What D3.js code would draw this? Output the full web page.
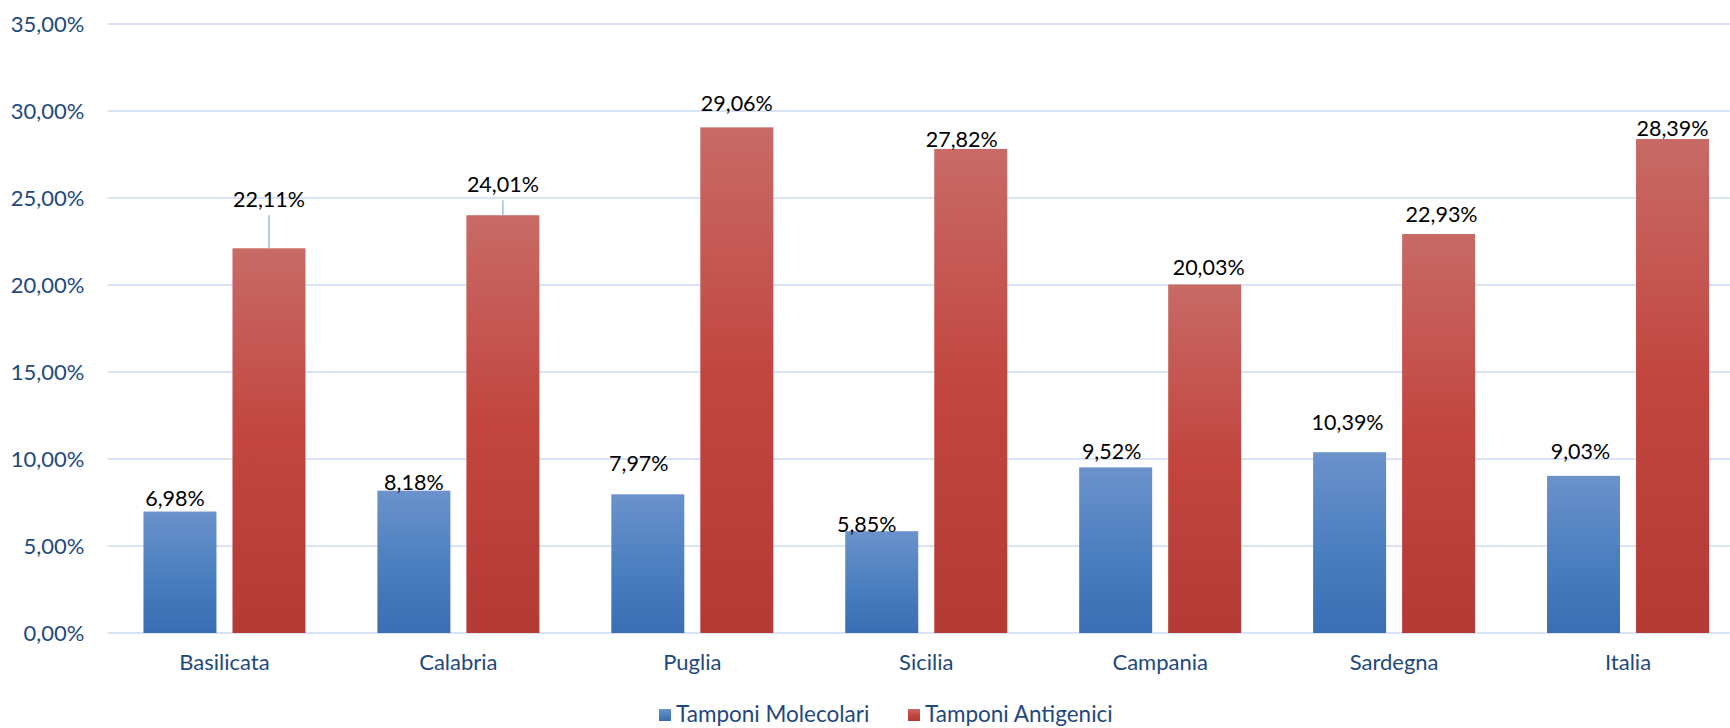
<!DOCTYPE html>
<html>
<head>
<meta charset="utf-8">
<script src="https://cdn.jsdelivr.net/npm/d3@7"></script>
<style>
  html, body { margin: 0; padding: 0; background: #fff; }
  svg { display: block; }
  text { font-family: Lato, "Open Sans", sans-serif; }
</style>
</head>
<body>
<svg id="chart" width="1730" height="728"></svg>
<script>
// ---- data ----
const categories = ["Basilicata", "Calabria", "Puglia", "Sicilia", "Campania", "Sardegna", "Italia"];
const seriesNames = ["Tamponi Molecolari", "Tamponi Antigenici"];
const molecolari = [6.98, 8.18, 7.97, 5.85, 9.52, 10.39, 9.03];
const antigenici = [22.11, 24.01, 29.06, 27.82, 20.03, 22.93, 28.39];
const yTicks = [0, 5, 10, 15, 20, 25, 30, 35];

// label nudges (layout only, dx/dy in px from default position above bar)
const nudgeMol = [[-5, -1], [0, 4], [-9, -18], [-15, 6], [-4, -3], [-2, -17], [-3, -12]];
const nudgeAnt = [[0, -36], [0, -18], [0, -11], [-9, 3], [4, -4], [3, -7], [0, 2]];

const fmt = v => v.toFixed(2).replace(".", ",") + "%";

const svg = d3.select("#chart");
const margin = { left: 107.5, right: -15, top: 24, bottom: 95 };
const W = 1730, H = 728;

const x0 = d3.scaleBand().domain(categories).range([margin.left, W - margin.right]).padding(0);
const x1 = d3.scaleBand().domain(seriesNames).range([0, x0.bandwidth()]).paddingInner(0.18).paddingOuter(0.404);
const y = d3.scaleLinear().domain([0, 35]).range([H - margin.bottom, margin.top]);

// gradients
const defs = svg.append("defs");
function grad(id, stops) {
  const g = defs.append("linearGradient").attr("id", id).attr("x1", 0).attr("y1", 0).attr("x2", 0).attr("y2", 1);
  stops.forEach(([o, c]) => g.append("stop").attr("offset", o).attr("stop-color", c));
}
grad("gBlue", [[0, "#6b92cb"], [0.5, "#4d80c1"], [1, "#3a6db2"]]);
grad("gRed", [[0, "#c86a66"], [0.5, "#c2453f"], [1, "#b43a36"]]);

// gridlines
svg.append("g").selectAll("line").data(yTicks).join("line")
  .attr("x1", margin.left).attr("x2", W)
  .attr("y1", d => y(d)).attr("y2", d => y(d))
  .attr("stroke", "#d9e3f3").attr("stroke-width", 2);

// y axis labels
const yAxis = d3.axisLeft(y).tickValues(yTicks).tickFormat(d => fmt(d)).tickSize(0).tickPadding(23);
const gy = svg.append("g").attr("transform", `translate(${margin.left},0)`).call(yAxis);
gy.select(".domain").remove();
gy.selectAll("text").attr("fill", "#1f497d").attr("font-size", 22).attr("font-family", "Lato, sans-serif");

// x axis labels
const xAxis = d3.axisBottom(x0).tickSize(0).tickPadding(21);
const gx = svg.append("g").attr("transform", `translate(0,${y(0)})`).call(xAxis);
gx.select(".domain").remove();
gx.selectAll("text").attr("fill", "#1f497d").attr("font-size", 22).attr("font-family", "Lato, sans-serif");

// bars
const rows = categories.map((c, i) => ({ cat: c, i, vals: [molecolari[i], antigenici[i]] }));
const groups = svg.append("g").selectAll("g").data(rows).join("g")
  .attr("transform", d => `translate(${x0(d.cat)},0)`);

groups.selectAll("rect").data(d => d.vals.map((v, k) => ({ v, k, i: d.i }))).join("rect")
  .attr("x", d => x1(seriesNames[d.k]))
  .attr("width", x1.bandwidth())
  .attr("y", d => y(d.v))
  .attr("height", d => y(0) - y(d.v))
  .attr("fill", d => d.k === 0 ? "url(#gBlue)" : "url(#gRed)");

// labels
groups.each(function (d) {
  const g = d3.select(this);
  d.vals.forEach((v, k) => {
    const nd = (k === 0 ? nudgeMol : nudgeAnt)[d.i];
    const cx = x1(seriesNames[k]) + x1.bandwidth() / 2;
    const baseline = y(v) - 5 + nd[1];
    if (nd[1] < -15 && k === 1) {
      g.append("line")
        .attr("x1", cx + nd[0]).attr("x2", cx + nd[0])
        .attr("y1", baseline + 8).attr("y2", y(v))
        .attr("stroke", "#9dbbe3").attr("stroke-width", 1.5);
    }
    g.append("text")
      .attr("x", cx + nd[0])
      .attr("y", baseline)
      .attr("text-anchor", "middle")
      .attr("font-size", 21.5)
      .attr("fill", "#000")
      .text(fmt(v));
  });
});

// legend
const legend = svg.append("g").attr("transform", "translate(659,709)");
const legItems = [
  { name: seriesNames[0], fill: "url(#gBlue)", x: 0 },
  { name: seriesNames[1], fill: "url(#gRed)", x: 249 }
];
legItems.forEach(it => {
  legend.append("rect").attr("x", it.x).attr("y", 0).attr("width", 12).attr("height", 12).attr("fill", it.fill);
  legend.append("text").attr("x", it.x + 17).attr("y", 13).attr("font-size", 22.5)
    .attr("fill", "#1f497d").text(it.name);
});
</script>
</body>
</html>
